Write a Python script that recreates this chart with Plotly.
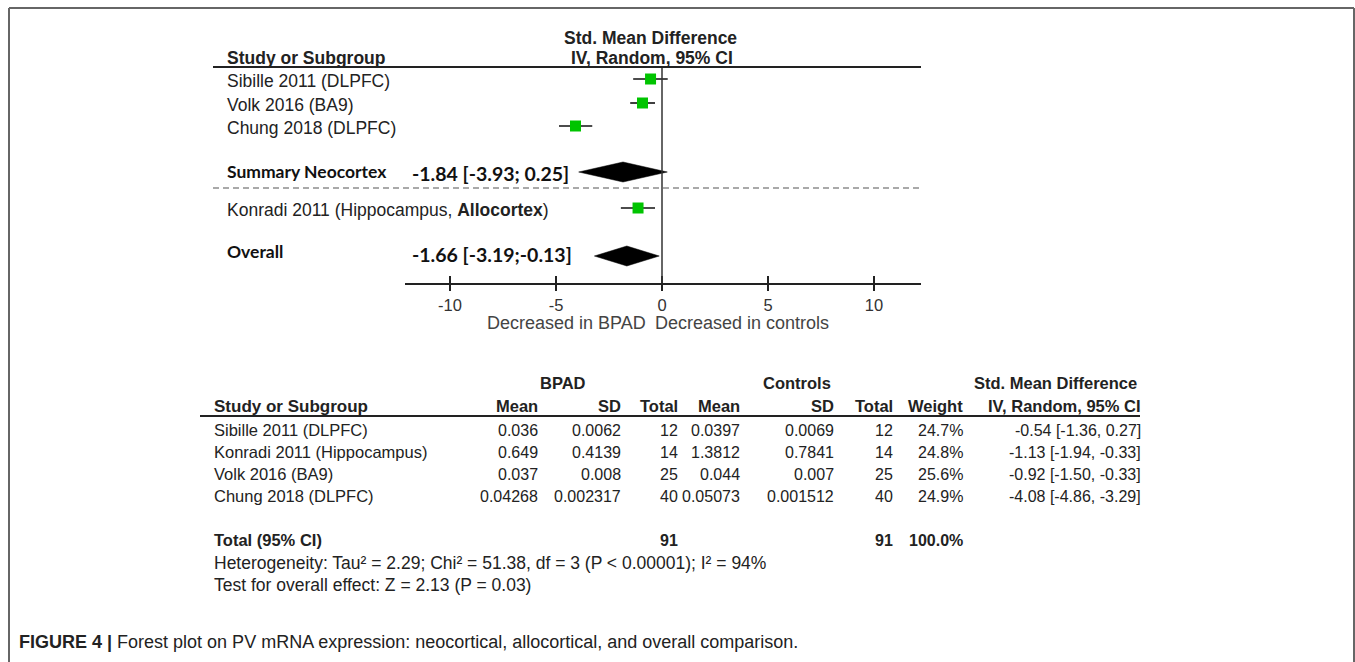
import plotly.graph_objects as go

W, H = 1355, 662

# ---------------- data: forest plot ----------------
forest_labels = ["Sibille 2011 (DLPFC)", "Volk 2016 (BA9)", "Chung 2018 (DLPFC)",
                 "Konradi 2011 (Hippocampus, <b>Allocortex</b>)"]
forest_est = [-0.54, -0.92, -4.08, -1.13]
forest_lo = [-1.36, -1.50, -4.86, -1.94]
forest_hi = [0.27, -0.33, -3.29, -0.33]

summary_labels = ["Summary Neocortex", "Overall"]
summary_text = ["-1.84 [-3.93; 0.25]", "-1.66 [-3.19;-0.13]"]
summary_est = [-1.84, -1.66]
summary_lo = [-3.93, -3.19]
summary_hi = [0.25, -0.13]

x_ticks = [-10, -5, 0, 5, 10]
x_ticktext = ["-10", "-5", "0", "5", "10"]

# ---------------- data: table ----------------
tbl_study = ["Sibille 2011 (DLPFC)", "Konradi 2011 (Hippocampus)", "Volk 2016 (BA9)", "Chung 2018 (DLPFC)"]
bp_mean = ["0.036", "0.649", "0.037", "0.04268"]
bp_sd = ["0.0062", "0.4139", "0.008", "0.002317"]
bp_n = ["12", "14", "25", "40"]
ct_mean = ["0.0397", "1.3812", "0.044", "0.05073"]
ct_sd = ["0.0069", "0.7841", "0.007", "0.001512"]
ct_n = ["12", "14", "25", "40"]
weight = ["24.7%", "24.8%", "25.6%", "24.9%"]
smd_ci = ["-0.54 [-1.36, 0.27]", "-1.13 [-1.94, -0.33]", "-0.92 [-1.50, -0.33]", "-4.08 [-4.86, -3.29]"]
total_bp, total_ct, total_w = "91", "91", "100.0%"
heterogeneity = "Heterogeneity: Tau² = 2.29; Chi² = 51.38, df = 3 (P < 0.00001); I² = 94%"
overall_test = "Test for overall effect: Z = 2.13 (P = 0.03)"
caption_bold = "FIGURE 4 |"
caption_rest = " Forest plot on PV mRNA expression: neocortical, allocortical, and overall comparison."

# ---------------- layout constants (pixels) ----------------
def px(x):
    return x / W

def py(y):
    return 1 - y / H

AX_L, AX_R = 405, 921
ZERO_PX, UNIT_PX = 662, 21.2
Y_TOP, Y_AX = 67, 283
forest_rows = [79, 103, 126, 208]
summary_rows = [172, 256]
summary_label_rows = [171, 252]
DIAM_H = 10
PAD = 3

FONT = "Liberation Sans, Arial, sans-serif"
CAL = "Lato, Open Sans, sans-serif"

fig = go.Figure()

fig.add_trace(go.Scatter(
    x=forest_est, y=forest_rows, mode="markers",
    marker=dict(symbol="square", size=11, color="#00c400", line=dict(width=0)),
    error_x=dict(type="data", symmetric=False,
                 array=[h - e for h, e in zip(forest_hi, forest_est)],
                 arrayminus=[e - l for e, l in zip(forest_est, forest_lo)],
                 color="#111", thickness=1.6, width=0),
    hoverinfo="skip"))

for est, lo, hi, yr in zip(summary_est, summary_lo, summary_hi, summary_rows):
    fig.add_trace(go.Scatter(
        x=[lo, est, hi, est, lo], y=[yr, yr - DIAM_H, yr, yr + DIAM_H, yr],
        mode="lines", fill="toself", fillcolor="black",
        line=dict(color="black", width=0.5), hoverinfo="skip"))

fig.add_trace(go.Scatter(x=[0], y=[Y_AX], xaxis="x2", yaxis="y", mode="markers",
                         marker=dict(opacity=0), hoverinfo="skip"))

xr = [(AX_L - ZERO_PX) / UNIT_PX, (AX_R - ZERO_PX) / UNIT_PX]
ydom = [1 - Y_AX / H, 1 - Y_TOP / H]

fig.update_layout(
    width=W, height=H, margin=dict(l=0, r=0, t=0, b=0),
    paper_bgcolor="white", plot_bgcolor="white", showlegend=False,
    xaxis=dict(domain=[px(AX_L), px(AX_R)], range=xr, tickvals=x_ticks, ticktext=x_ticktext,
               showline=True, linecolor="#222", linewidth=1.5, ticks="outside", ticklen=6,
               tickwidth=1.5, tickcolor="#222", showgrid=False, zeroline=False,
               tickfont=dict(family=FONT, size=16.5, color="#333"), anchor="y", fixedrange=True),
    xaxis2=dict(overlaying="x", matches="x", anchor="y", tickvals=x_ticks, ticks="inside",
                ticklen=7, tickwidth=1.5, tickcolor="#222", showticklabels=False,
                showline=False, showgrid=False, zeroline=False),
    yaxis=dict(domain=ydom, range=[Y_AX, Y_TOP], visible=False, fixedrange=True),
)

shapes = []
shapes.append(dict(type="line", xref="x", yref="y", x0=0, x1=0, y0=Y_TOP, y1=Y_AX,
                   line=dict(color="#333", width=1.5)))
shapes.append(dict(type="line", xref="paper", yref="paper", x0=px(213), x1=px(921),
                   y0=py(Y_TOP), y1=py(Y_TOP), line=dict(color="#222", width=1.8)))
shapes.append(dict(type="line", xref="paper", yref="paper", x0=px(213), x1=px(921),
                   y0=py(188), y1=py(188), line=dict(color="#555", width=1.2, dash="6px,4px")))
shapes.append(dict(type="line", xref="paper", yref="paper", x0=px(200), x1=px(1140),
                   y0=py(416), y1=py(416), line=dict(color="#222", width=1.8)))
shapes.append(dict(type="line", xref="paper", yref="paper", x0=px(9), x1=px(1354),
                   y0=py(8), y1=py(8), line=dict(color="#666", width=2)))
shapes.append(dict(type="line", xref="paper", yref="paper", x0=px(9), x1=px(9),
                   y0=py(8), y1=0, line=dict(color="#666", width=2)))
shapes.append(dict(type="line", xref="paper", yref="paper", x0=px(1354), x1=px(1354),
                   y0=py(8), y1=0, line=dict(color="#666", width=2)))
fig.update_layout(shapes=shapes)

ann = []

def T(text, x, y, anchor="left", size=14, bold=False, family=FONT, color="#222"):
    t = f"<b>{text}</b>" if bold else text
    if anchor == "left":
        x -= PAD
    elif anchor == "right":
        x += PAD
    ann.append(dict(text=t, x=px(x), y=py(y), xref="paper", yref="paper",
                    xanchor=anchor, yanchor="middle", showarrow=False,
                    font=dict(family=family, size=size, color=color)))

# forest header
T("Std. Mean Difference", 650, 38, "center", 17.5, True)
T("IV, Random, 95% CI", 652, 58, "center", 17.5, True)
T("Study or Subgroup", 228, 58, "left", 17.5, True)
for lab, yr in zip(forest_labels, forest_rows):
    T(lab, 228, yr + 2, "left", 17.5)
for lab, txt, yr, cx in zip(summary_labels, summary_text, summary_label_rows, [490, 492]):
    T(lab, 228, yr, "left", 17.5, True, CAL, "#111")
    T(txt, cx, yr + 2, "center", 19.5, True, CAL, "#111")
T("Decreased in BPAD", 645, 323, "right", 18, False, FONT, "#444")
T("Decreased in controls", 656, 323, "left", 18, False, FONT, "#444")

# table
TS = 16.5
TN = 16
T("BPAD", 563, 383, "center", TS, True)
T("Controls", 797, 383, "center", TS, True)
T("Std. Mean Difference", 1136, 383, "right", TS, True)
hdr_y = 406
T("Study or Subgroup", 215, hdr_y, "left", 17, True)
cols_r = [537, 620, 677, 739, 833, 892, 962, 1140]
for name, xr_ in zip(["Mean", "SD", "Total", "Mean", "SD", "Total", "Weight", "IV, Random, 95% CI"], cols_r):
    T(name, xr_, hdr_y, "right", TS, True)
row_y = [430, 452, 474, 496]
for i, yr in enumerate(row_y):
    T(tbl_study[i], 215, yr, "left", TS)
    vals = [bp_mean[i], bp_sd[i], bp_n[i], ct_mean[i], ct_sd[i], ct_n[i], weight[i], smd_ci[i]]
    for v, xr_ in zip(vals, cols_r):
        T(v, xr_, yr, "right", TN)
T("Total (95% CI)", 215, 540, "left", TS, True)
T(total_bp, 677, 540, "right", TN, True)
T(total_ct, 892, 540, "right", TN, True)
T(total_w, 962, 540, "right", TN, True)
T(heterogeneity, 215, 563, "left", 17.5)
T(overall_test, 215, 585, "left", 17.5)

ann.append(dict(text=f"<b>{caption_bold}</b>{caption_rest}", x=px(20 - PAD), y=py(642),
                xref="paper", yref="paper", xanchor="left", yanchor="middle", showarrow=False,
                font=dict(family=FONT, size=18, color="#222")))

fig.update_layout(annotations=ann)
fig.write_html("out.html", config={"displayModeBar": False},
               post_script="document.body.style.margin='0';")
